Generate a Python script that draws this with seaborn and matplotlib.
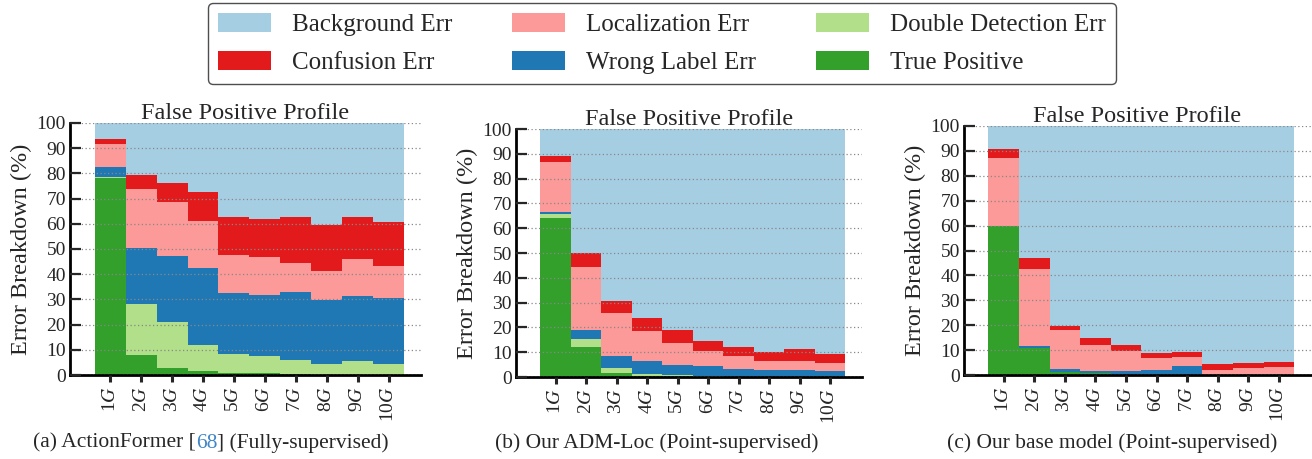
import numpy as np
import pandas as pd
import matplotlib
matplotlib.use("Agg")
import matplotlib.pyplot as plt
import seaborn as sns
from matplotlib.patches import Patch

# ---------------- data ----------------
categories = ["1G", "2G", "3G", "4G", "5G", "6G", "7G", "8G", "9G", "10G"]
series_names = ["Background Err", "Confusion Err", "Localization Err",
                "Wrong Label Err", "Double Detection Err", "True Positive"]

# (a) ActionFormer (Fully-supervised)
a_bg   = [6.5, 20.5, 23.7, 27.3, 37.2, 38.0, 37.2, 40.3, 37.2, 39.2]
a_conf = [1.7, 5.6, 7.8, 11.5, 15.3, 15.1, 18.3, 18.4, 16.7, 17.5]
a_loc  = [9.4, 23.4, 21.2, 18.7, 14.9, 15.1, 11.5, 11.4, 14.7, 12.6]
a_wl   = [4.0, 22.3, 26.2, 30.6, 24.3, 24.3, 27.0, 25.4, 25.8, 26.2]
a_dd   = [0.3, 20.3, 18.3, 10.3, 7.5, 6.7, 5.7, 4.5, 5.6, 4.5]
a_tp   = [78.1, 7.9, 2.8, 1.6, 0.8, 0.8, 0.3, 0.0, 0.0, 0.0]

# (b) Our ADM-Loc (Point-supervised)
b_bg   = [10.9, 49.9, 69.3, 76.1, 80.9, 85.3, 87.8, 89.9, 88.6, 90.7]
b_conf = [2.4, 5.7, 4.8, 5.2, 5.2, 4.3, 3.7, 3.7, 5.0, 3.7]
b_loc  = [20.1, 25.5, 17.4, 12.3, 9.1, 6.1, 5.4, 3.7, 3.7, 3.3]
b_wl   = [0.8, 3.4, 5.0, 5.1, 3.9, 3.8, 3.1, 2.7, 2.7, 2.3]
b_dd   = [1.6, 3.6, 1.7, 0.7, 0.5, 0.3, 0.0, 0.0, 0.0, 0.0]
b_tp   = [64.2, 11.9, 1.8, 0.6, 0.4, 0.2, 0.0, 0.0, 0.0, 0.0]

# (c) Our base model (Point-supervised)
c_bg   = [9.4, 52.9, 80.2, 85.0, 87.8, 91.0, 90.6, 95.6, 95.2, 94.8]
c_conf = [3.6, 4.7, 1.8, 2.8, 2.4, 2.0, 2.0, 2.2, 2.0, 2.0]
c_loc  = [27.0, 30.6, 15.7, 10.4, 8.3, 5.1, 3.8, 2.2, 2.8, 3.2]
c_wl   = [0.3, 0.8, 0.9, 0.9, 1.3, 1.9, 3.6, 0.0, 0.0, 0.0]
c_dd   = [0.0, 0.0, 0.0, 0.0, 0.0, 0.0, 0.0, 0.0, 0.0, 0.0]
c_tp   = [59.7, 11.0, 1.4, 0.9, 0.2, 0.0, 0.0, 0.0, 0.0, 0.0]

panel_titles = ["False Positive Profile"] * 3
captions = [("(a) ActionFormer [", "68", "] (Fully-supervised)"),
            ("(b) Our ADM-Loc (Point-supervised)", "", ""),
            ("(c) Our base model (Point-supervised)", "", "")]
y_label = "Error Breakdown (%)"

panels = [
    [a_bg, a_conf, a_loc, a_wl, a_dd, a_tp],
    [b_bg, b_conf, b_loc, b_wl, b_dd, b_tp],
    [c_bg, c_conf, c_loc, c_wl, c_dd, c_tp],
]

# ---------------- style ----------------
sns.set_theme(style="white")
plt.rcParams["font.family"] = ["Liberation Serif", "DejaVu Serif"]
plt.rcParams["mathtext.fontset"] = "stix"

colors = {
    "Background Err": "#a6cee3",
    "Confusion Err": "#e31a1c",
    "Localization Err": "#fb9a99",
    "Wrong Label Err": "#1f78b4",
    "Double Detection Err": "#b2df8a",
    "True Positive": "#33a02c",
}

fig = plt.figure(figsize=(13.12, 4.59), dpi=100)
W, H = 1312.0, 459.0
# axes rectangles in pixels: left, right, top(100), bottom(0)
rects = [(70, 421, 123, 375), (516, 862, 129, 377), (964, 1311, 126, 375)]

tick_fs = 14
xtick_fs = 14
label_fs = 17.5
title_fs = 17.5

for k, (vals, (l, r, t, b)) in enumerate(zip(panels, rects)):
    ax = fig.add_axes([l / W, 1 - b / H, (r - l) / W, (b - t) / H])
    rows = []
    for name, series in zip(series_names, vals):
        for i, v in enumerate(series):
            rows.append({"pos": i, "series": name, "value": v})
    df = pd.DataFrame(rows)
    sns.histplot(data=df, x="pos", weights="value", hue="series",
                 hue_order=series_names, multiple="stack", discrete=True,
                 shrink=1, palette=colors, alpha=1, linewidth=0,
                 legend=False, ax=ax)
    ax.set_xlim(-1.3, 10.05)
    ax.set_ylim(0, 100)
    ax.set_yticks(np.arange(0, 101, 10))
    ax.set_xticks(range(len(categories)))
    ax.set_xticklabels([c.replace("G", "$G$") for c in categories],
                       rotation=90, fontsize=xtick_fs)
    ax.tick_params(axis="y", labelsize=tick_fs, direction="in", length=8,
                   width=1.6, pad=3, left=True)
    ax.tick_params(axis="x", direction="out", length=5, width=2.2, pad=3,
                   bottom=True)
    ax.set_xlabel("")
    ax.set_ylabel(y_label, fontsize=label_fs, labelpad=3)
    ax.set_title(panel_titles[k], fontsize=title_fs, pad=3)
    for s in ["top", "right"]:
        ax.spines[s].set_visible(False)
    for s in ["left", "bottom"]:
        ax.spines[s].set_linewidth(2.0)
        ax.spines[s].set_color("black")
    ax.set_axisbelow(False)
    ax.yaxis.grid(True, linestyle=(0, (1, 2)), color="#888888", linewidth=0.9)
    ax.xaxis.grid(False)
    ax.set_facecolor("white")

# legend
order = ["Background Err", "Confusion Err", "Localization Err",
         "Wrong Label Err", "Double Detection Err", "True Positive"]
handles = [Patch(facecolor=colors[n], edgecolor="none", label=n) for n in order]
leg = fig.legend(handles=handles, ncol=3, loc="upper center",
                 bbox_to_anchor=(0.5046, 0.994), borderaxespad=0,
                 fontsize=18, frameon=True,
                 fancybox=True, edgecolor="#222222", handlelength=2.1,
                 handleheight=0.8, columnspacing=2.4, handletextpad=0.85,
                 labelspacing=0.58, borderpad=0.4)
leg.get_frame().set_linewidth(1.0)

# captions
cap_centers = [211, 657, 1112]
cap_y = 1 - 443 / H
cap_fs = 15.5
fig.canvas.draw()
renderer = fig.canvas.get_renderer()
for (p1, p2, p3), cx in zip(captions, cap_centers):
    t1 = fig.text(0, cap_y, p1, fontsize=cap_fs, ha="left", va="center")
    parts = [t1]
    if p2:
        t2 = fig.text(0, cap_y, p2, fontsize=cap_fs, ha="left", va="center",
                      color="#3f86c6")
        t3 = fig.text(0, cap_y, p3, fontsize=cap_fs, ha="left", va="center")
        parts += [t2, t3]
    widths = [p.get_window_extent(renderer).width for p in parts]
    x = cx - sum(widths) / 2
    for p, w in zip(parts, widths):
        p.set_x(x / W)
        x += w

fig.savefig("out.png", dpi=100)
